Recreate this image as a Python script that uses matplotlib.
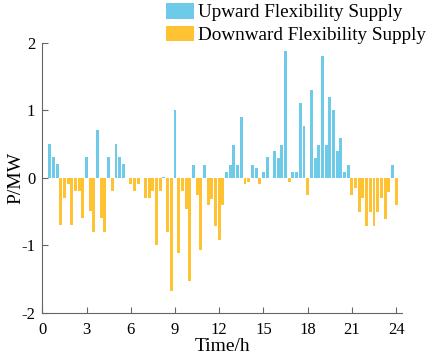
import numpy as np
import matplotlib.pyplot as plt

plt.rcParams['font.family'] = ['Liberation Serif', 'DejaVu Serif']
plt.rcParams['axes.unicode_minus'] = False

# 15-min steps, hours 0.25 .. 24
hours = np.arange(1, 97) * 0.25

# net flexibility per step: >0 upward supply, <0 downward supply
net = [0, 0.5, 0.3, 0.2, -0.7, -0.3, -0.1, -0.7, -0.2, -0.2, -0.6, 0.3,
       -0.5, -0.8, 0.7, -0.6, -0.8, 0.3, -0.2, 0.5, 0.3, 0.2, 0, -0.1,
       -0.2, -0.1, 0, -0.3, -0.3, -0.2, -1.0, -0.2, 0.01, -0.8, -1.68, 1.0,
       -1.12, -0.2, -0.46, -1.53, 0.19, -0.26, -1.07, 0.19, -0.41, -0.32, -0.71, -0.92,
       -0.4, 0.08, 0.19, 0.49, 0.19, 0.9, -0.1, -0.06, 0.19, 0.14, -0.1, 0.08,
       0.3, 0, 0.39, 0.29, 0.49, 1.87, -0.07, 0.08, 0.08, 1.1, 0.76, -0.25,
       1.3, 0.29, 0.49, 1.81, 0.49, 1.2, 1.0, 0.39, 0.59, 0.08, 0.19, -0.25,
       -0.15, -0.51, -0.3, -0.71, -0.51, -0.71, -0.51, -0.3, -0.61, -0.21, 0.19, -0.41]
net = np.array(net)
upward = np.where(net > 0, net, 0)
downward = np.where(net < 0, net, 0)

xticks = [0, 3, 6, 9, 12, 15, 18, 21, 24]
yticks = [-2, -1, 0, 1, 2]

fig = plt.figure(figsize=(4.29, 3.57), dpi=100)
ax = fig.add_axes([0.0986, 0.1241, 0.8378, 0.7563])

ax.bar(hours, upward, width=0.2, color='#6DCAE8', label='Upward Flexibility Supply')
ax.bar(hours, downward, width=0.2, color='#FFC233', label='Downward Flexibility Supply')

ax.set_xlim(0, 24.38)
ax.set_ylim(-2, 2)
ax.set_xticks(xticks)
ax.set_yticks(yticks)
ax.tick_params(direction='in', length=4, width=0.8, color='#666666', labelsize=12)
ax.tick_params(axis='x', pad=7)
ax.tick_params(axis='y', pad=5)
for s in ['top', 'right']:
    ax.spines[s].set_visible(False)
for s in ['left', 'bottom']:
    ax.spines[s].set_color('#666666')
    ax.spines[s].set_linewidth(0.8)

ax.set_xlabel('Time/h', fontsize=14, labelpad=0)
ax.set_ylabel('P/MW', fontsize=14, labelpad=-2)

fig.legend(loc='upper left', bbox_to_anchor=(166 / 429, 0.992), frameon=False,
           fontsize=13.8, borderpad=0, borderaxespad=0, handlelength=1.45,
           handleheight=0.88, handletextpad=0.2, labelspacing=0.22)

fig.savefig('out.png', dpi=100)
